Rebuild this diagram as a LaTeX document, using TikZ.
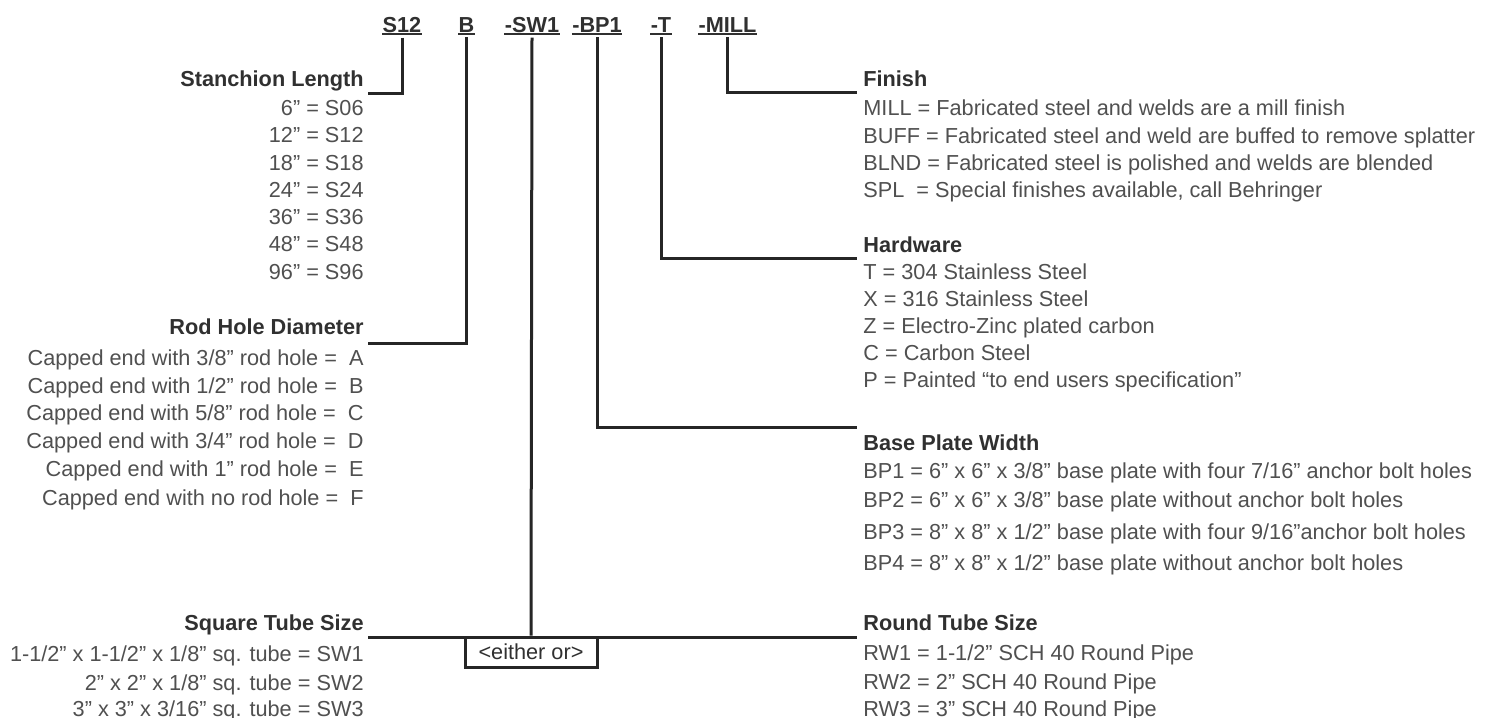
\documentclass[tikz,border=0pt]{standalone}
\usepackage{fontspec}
\setmainfont{Liberation Sans}
\definecolor{txt}{HTML}{505050}
\definecolor{hdr}{HTML}{303030}
\definecolor{ln}{HTML}{262626}
\begin{document}
\begin{tikzpicture}[x=0.5pt,y=-0.5pt,
  every node/.style={inner sep=0pt, font=\fontsize{10.85}{13}\selectfont},
  lft/.style={anchor=base east, text=txt},
  rgt/.style={anchor=base west, text=txt},
  lhead/.style={anchor=base east, text=hdr, font=\fontsize{10.85}{13}\selectfont\bfseries},
  rhead/.style={anchor=base west, text=hdr, font=\fontsize{10.85}{13}\selectfont\bfseries},
  code/.style={anchor=base, text=hdr, font=\fontsize{10.85}{13}\selectfont\bfseries},
  conn/.style={draw=ln, line width=1.5pt},
  uline/.style={draw=hdr, line width=1pt},
  orbox/.style={draw=ln, line width=1.5pt, fill=white, text=hdr, minimum width=66pt, minimum height=15pt}
]
\useasboundingbox (0,0) rectangle (1495,718);
\fill[white] (0,0) rectangle (1495,718);

% codes
\node[code] (cS) at (402,32) {S12};
\node[code] (cB) at (466.5,32) {B};
\node[code] (cSW) at (532,32) {-SW1};
\node[code] (cBP) at (597,32) {-BP1};
\node[code] (cT) at (661,32) {-T};
\node[code] (cM) at (727.5,32) {-MILL};
\foreach \c in {cS,cB,cSW,cBP,cT,cM}
  \draw[uline] ([yshift=-1.2pt]\c.base west) -- ([yshift=-1.2pt]\c.base east);

% junction coordinates
\coordinate (jS) at (368,93);
\coordinate (jB) at (368,343);
\coordinate (jSq) at (368,637);
\coordinate (jRd) at (857,637);
\coordinate (jBP) at (857,427);
\coordinate (jT) at (857,258);
\coordinate (jM) at (857,92);

% either-or box
\node[orbox] (either) at (531,652) {<either or>};

% connectors
\draw[conn] ([yshift=-2.5pt]cS.south) |- (jS);
\draw[conn] ([yshift=-2.5pt]cB.south) |- (jB);
\draw[conn] ([yshift=-2.5pt]cSW.south) -- (either.north);
\draw[conn] (jSq) -- (jRd);
\draw[conn] ([yshift=-2.5pt]cBP.south) |- (jBP);
\draw[conn] ([yshift=-2.5pt]cT.south) |- (jT);
\draw[conn] ([yshift=-2.5pt]cM.south) |- (jM);

% left column
\node[lhead] (hS) at (364,86) {Stanchion Length};
\node[lft] (s06) at (364,115) {6" = S06};
\node[lft] (s12) at (364,142) {12" = S12};
\node[lft] (s18) at (364,170) {18" = S18};
\node[lft] (s24) at (364,197) {24" = S24};
\node[lft] (s36) at (364,224) {36" = S36};
\node[lft] (s48) at (364,251) {48" = S48};
\node[lft] (s96) at (364,279) {96" = S96};

\node[lhead] (hR) at (364,334) {Rod Hole Diameter};
\node[lft] (rA) at (364,365) {Capped end with 3/8" rod hole =\ \ A};
\node[lft] (rB) at (364,393) {Capped end with 1/2" rod hole =\ \ B};
\node[lft] (rC) at (364,420) {Capped end with 5/8" rod hole =\ \ C};
\node[lft] (rD) at (364,448) {Capped end with 3/4" rod hole =\ \ D};
\node[lft] (rE) at (364,476) {Capped end with 1" rod hole =\ \ E};
\node[lft] (rF) at (364,505) {Capped end with no rod hole =\ \ F};

\node[lhead] (hSq) at (364,630) {Square Tube Size};
\node[lft] (sw1) at (364,661) {1-1/2" x 1-1/2" x 1/8" sq. tube = SW1};
\node[lft] (sw2) at (364,690) {2" x 2" x 1/8" sq. tube = SW2};
\node[lft] (sw3) at (364,716) {3" x 3" x 3/16" sq. tube = SW3};

% right column
\node[rhead] (hF) at (863,86) {Finish};
\node[rgt] (fM) at (863,115) {MILL = Fabricated steel and welds are a mill finish};
\node[rgt] (fB) at (863,143) {BUFF = Fabricated steel and weld are buffed to remove splatter};
\node[rgt] (fL) at (863,170) {BLND = Fabricated steel is polished and welds are blended};
\node[rgt] (fS) at (863,197) {SPL\ \ = Special finishes available, call Behringer};

\node[rhead] (hH) at (863,252) {Hardware};
\node[rgt] (hwT) at (863,279) {T = 304 Stainless Steel};
\node[rgt] (hwX) at (863,306) {X = 316 Stainless Steel};
\node[rgt] (hwZ) at (863,333) {Z = Electro-Zinc plated carbon};
\node[rgt] (hwC) at (863,360) {C = Carbon Steel};
\node[rgt] (hwP) at (863,387) {P = Painted “to end users specification”};

\node[rhead] (hBP) at (863,450) {Base Plate Width};
\node[rgt] (bp1) at (863,478) {BP1 = 6" x 6" x 3/8" base plate with four 7/16" anchor bolt holes};
\node[rgt] (bp2) at (863,507) {BP2 = 6" x 6" x 3/8" base plate without anchor bolt holes};
\node[rgt] (bp3) at (863,539) {BP3 = 8" x 8" x 1/2" base plate with four 9/16"anchor bolt holes};
\node[rgt] (bp4) at (863,570) {BP4 = 8" x 8" x 1/2" base plate without anchor bolt holes};

\node[rhead] (hRd) at (863,630) {Round Tube Size};
\node[rgt] (rw1) at (863,660) {RW1 = 1-1/2" SCH 40 Round Pipe};
\node[rgt] (rw2) at (863,689) {RW2 = 2" SCH 40 Round Pipe};
\node[rgt] (rw3) at (863,716) {RW3 = 3" SCH 40 Round Pipe};
\end{tikzpicture}
\end{document}
